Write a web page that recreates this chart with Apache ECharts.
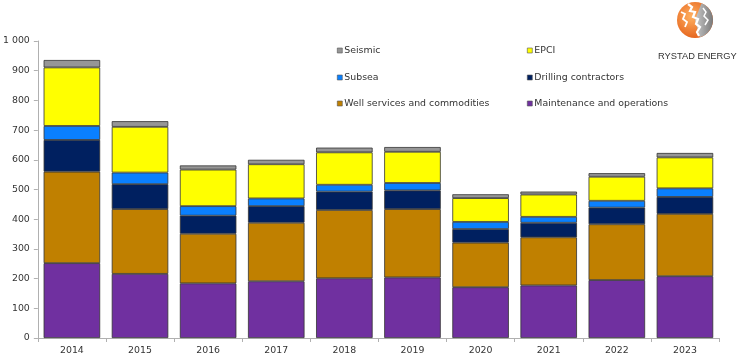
<!DOCTYPE html>
<html>
<head>
<meta charset="utf-8">
<script src="https://cdn.jsdelivr.net/npm/echarts@6/dist/echarts.min.js"></script>
<style>html,body{margin:0;padding:0;background:#fff}#c{width:738px;height:355px}</style>
</head>
<body>
<div id="c"></div>
<script>
const years = ['2014','2015','2016','2017','2018','2019','2020','2021','2022','2023'];
const maintenance = [252, 216, 184, 191, 201, 204, 171, 177, 195, 208];
const wellServices = [308, 218, 167, 197, 230, 230, 150, 162, 188, 210];
const drilling = [107, 84, 61, 56, 62, 63, 46, 49, 56, 57];
const subsea = [47, 39, 32, 26, 23, 25, 24, 20, 23, 29];
const epci = [197, 154, 123, 115, 109, 105, 80, 75, 81, 104];
const seismic = [25, 19, 14, 15, 16, 16, 13, 10, 12, 15];
const yTicks = { min: 0, max: 1000, interval: 100 };

const names = ['Maintenance and operations','Well services and commodities','Drilling contractors','Subsea','EPCI','Seismic'];
const colors = ['#7030A0','#C08000','#002060','#0A80FF','#FFFF00','#969696'];
const datasets = [maintenance, wellServices, drilling, subsea, epci, seismic];

const FONT = '"DejaVu Sans", Verdana, sans-serif';
const chart = echarts.init(document.getElementById('c'), null, {renderer: 'canvas'});

// legend layout: [name, left, top]
const legendPos = [
  ['Seismic', 337, 46], ['EPCI', 527, 46],
  ['Subsea', 337, 73], ['Drilling contractors', 527, 73],
  ['Well services and commodities', 337, 99], ['Maintenance and operations', 527, 99]
];

const series = names.map((n, i) => ({
  name: n, type: 'bar', stack: 'total',
  data: datasets[i],
  barCategoryGap: '17%',
  itemStyle: { color: colors[i], borderColor: '#333', borderWidth: 0.8 },
  emphasis: { disabled: true }
}));

chart.setOption({
  animation: false,
  backgroundColor: '#fff',
  textStyle: { fontFamily: FONT },
  grid: { left: 35, right: 19, top: 41, bottom: 17, containLabel: false },
  legend: legendPos.map(([n, l, t]) => ({
    data: [n], left: l, top: t, padding: 0, itemWidth: 5, itemHeight: 5, itemGap: 4,
    icon: 'rect', selectedMode: false,
    itemStyle: { borderColor: '#555', borderWidth: 0.6 },
    textStyle: { fontFamily: FONT, fontSize: 9.4, color: '#333', padding: [0,0,0,-3] }
  })),
  xAxis: {
    type: 'category', data: years,
    axisLine: { lineStyle: { color: '#b0b0b0' } },
    axisTick: { show: true, length: 4, lineStyle: { color: '#b0b0b0' } },
    axisLabel: { fontFamily: FONT, fontSize: 9.4, color: '#333', margin: 8 }
  },
  yAxis: {
    type: 'value', min: yTicks.min, max: yTicks.max, interval: yTicks.interval,
    splitLine: { show: false },
    axisLine: { show: true, lineStyle: { color: '#b0b0b0' } },
    axisTick: { show: true, length: 4, lineStyle: { color: '#b0b0b0' } },
    axisLabel: {
      fontFamily: FONT, fontSize: 9.4, color: '#333', margin: 8,
      formatter: v => String(v).replace(/\B(?=(\d{3})+(?!\d))/g, ' ')
    }
  },
  series: series,
  graphic: [
    { type: 'circle', shape: { cx: 695, cy: 20, r: 18 }, style: {
        fill: new echarts.graphic.RadialGradient(0.4, 0.4, 0.7, [
          { offset: 0, color: '#ffb060' }, { offset: 1, color: '#e25a14' }]) } },
    { type: 'sector', shape: { cx: 695, cy: 20, r: 18, r0: 0, startAngle: -1.2, endAngle: 1.3 },
      style: { fill: new echarts.graphic.LinearGradient(0, 0, 1, 0, [
          { offset: 0, color: '#c8c8c8' }, { offset: 1, color: '#7a7a7a' }]) } },
    { type: 'polyline', shape: { points: [[688,4],[692,7],[690,11],[695,12],[693,17],[698,19],[696,24],[700,27],[697,32],[699,36]] },
      style: { stroke: '#fff', lineWidth: 2.2, fill: null } },
    { type: 'polyline', shape: { points: [[681,12],[685,14],[683,19],[687,22],[685,27]] },
      style: { stroke: '#fff', lineWidth: 1.8, fill: null } },
    { type: 'polyline', shape: { points: [[703,8],[706,12],[704,16],[708,20],[705,25]] },
      style: { stroke: '#fff', lineWidth: 1.5, fill: null } },
    { type: 'text', left: 658, top: 52, style: { text: 'RYSTAD ENERGY', fontFamily: '"Liberation Sans", Arial, sans-serif', fontSize: 9.3, fill: '#333' } }
  ]
});
</script>
</body>
</html>
